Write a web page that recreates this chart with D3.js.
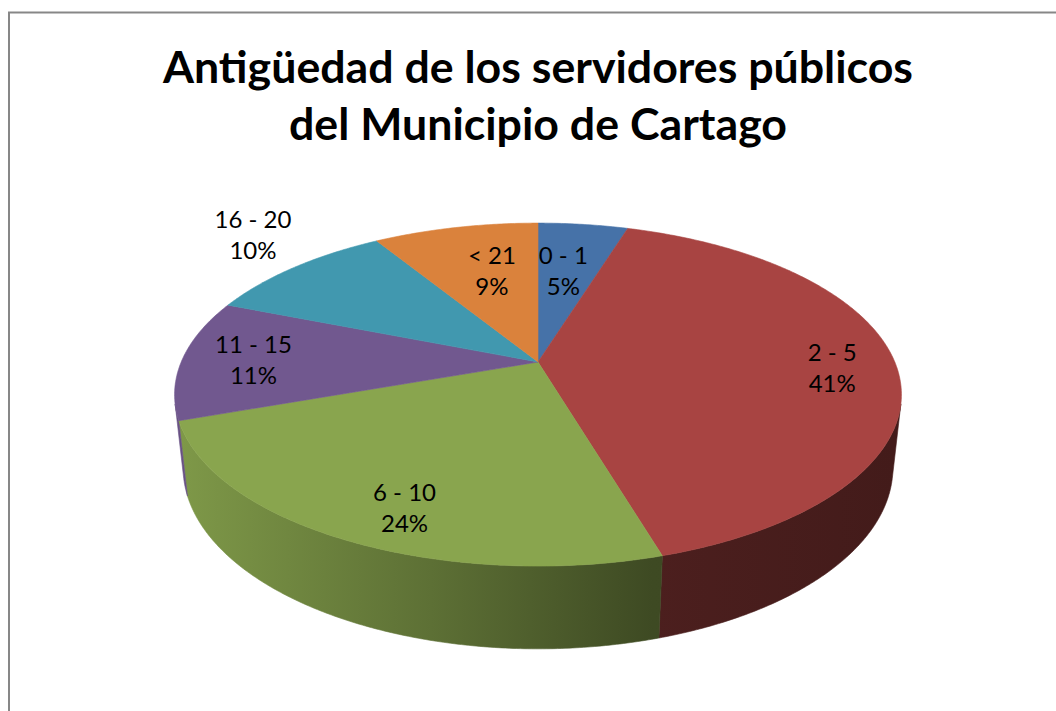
<!DOCTYPE html>
<html>
<head>
<meta charset="utf-8">
<script src="https://cdn.jsdelivr.net/npm/d3@7"></script>
<style>
  body { margin: 0; background: #fff; }
  svg { display: block; }
</style>
</head>
<body>
<div id="chart"></div>
<script>
// Data (percent of staff per seniority band)
const categories = ["0 - 1", "2 - 5", "6 - 10", "11 - 15", "16 - 20", "< 21"];
const shares = [4.8, 40.6, 24.2, 11.4, 10.2, 8.8];
const titleLines = ["Antigüedad de los servidores públicos", "del Municipio de Cartago"];

// Palette (Excel 2007 style)
const palette = ["#4672A8", "#A84442", "#89A54E", "#71588F", "#4198AF", "#DA823C"];

function drawPie3D() {
    const width = 1056, height = 711;

    const svg = d3.select("#chart").append("svg")
        .attr("width", width)
        .attr("height", height);

    // Chart frame (runs off the right and bottom edges)
    svg.append("rect")
        .attr("x", 9).attr("y", 12.5)
        .attr("width", 1200).attr("height", 900)
        .attr("fill", "#fff")
        .attr("stroke", "#878787")
        .attr("stroke-width", 2);

    // Title
    const title = svg.append("g");
    const titleWidths = [750, 498];
    titleLines.forEach((t, i) => {
        title.append("text")
            .attr("x", 538)
            .attr("y", 83 + i * 57)
            .attr("text-anchor", "middle")
            .attr("textLength", titleWidths[i])
            .attr("lengthAdjust", "spacingAndGlyphs")
            .style("font-family", "Lato, 'Open Sans', sans-serif")
            .style("font-weight", "bold")
            .style("font-size", "43px")
            .attr("fill", "#000")
            .text(t);
    });

    // 3D projection of a tilted disk seen in perspective
    const cx = 538, cy = 362;
    const R = 356.8;               // screen radius at depth d
    const d = 4.664;               // camera distance (in radii)
    const sinA = 0.4633;
    const cosA = Math.sqrt(1 - sinA * sinA);
    const H = 0.233;               // pie thickness (in radii)
    const F = R * d;

    function project(theta, r, yv) {
        const x = r * Math.sin(theta);
        const z = -r * Math.cos(theta);
        const w = d - yv * sinA - z * cosA;
        return [cx + F * x / w, cy + F * (z * sinA - yv * cosA) / w];
    }

    const pie = d3.pie().sort(null).value(d => d.value)
        .startAngle(0).endAngle(2 * Math.PI);
    const data = categories.map((c, i) => ({ label: c, value: shares[i], color: palette[i] }));
    const arcs = pie(data);
    const total = d3.sum(shares);

    const step = Math.PI / 360;
    function arcPoints(a0, a1, yv) {
        const n = Math.max(2, Math.ceil(Math.abs(a1 - a0) / step));
        return d3.range(n + 1).map(k => project(a0 + (a1 - a0) * k / n, 1, yv));
    }

    const line = d3.line();
    const defs = svg.append("defs");

    // Side walls: only the part facing the camera
    const limit = Math.acos(-1 / (d * cosA));
    const visLo = limit, visHi = 2 * Math.PI - limit;

    const shade = [[0, 0.92], [0.35, 0.68], [0.66, 0.45], [1, 0.40]];

    const walls = svg.append("g");
    arcs.forEach((a, i) => {
        const a0 = Math.max(a.startAngle, visLo);
        const a1 = Math.min(a.endAngle, visHi);
        if (a1 <= a0) return;

        const base = d3.rgb(a.data.color);
        const grad = defs.append("linearGradient")
            .attr("id", "side" + i)
            .attr("gradientUnits", "userSpaceOnUse")
            .attr("x1", cx - R).attr("y1", 0)
            .attr("x2", cx + R).attr("y2", 0);
        shade.forEach(([o, f]) => {
            grad.append("stop")
                .attr("offset", o)
                .attr("stop-color", d3.rgb(base.r * f, base.g * f, base.b * f).formatHex());
        });

        const pts = arcPoints(a0, a1, 0).concat(arcPoints(a1, a0, -H));
        walls.append("path")
            .attr("d", line(pts) + "Z")
            .attr("fill", `url(#side${i})`)
            .attr("stroke", `url(#side${i})`)
            .attr("stroke-width", 0.6);
    });

    // Top faces
    const tops = svg.append("g");
    arcs.forEach(a => {
        const pts = [[cx, cy]].concat(arcPoints(a.startAngle, a.endAngle, 0));
        tops.append("path")
            .attr("d", line(pts) + "Z")
            .attr("fill", a.data.color)
            .attr("stroke", a.data.color)
            .attr("stroke-width", 0.6);
    });

    // Data labels (Excel best-fit placement: radius and angular nudge per slice)
    const labelPlace = {
        "0 - 1":   { r: 0.62, shift: -1.3 },
        "2 - 5":   { r: 0.82, shift: 2 },
        "6 - 10":  { r: 0.82, shift: -4 },
        "11 - 15": { r: 0.80, shift: 0 },
        "16 - 20": { r: 1.30, shift: 4 },
        "< 21":    { r: 0.63, shift: 2.6 }
    };
    const pct = d3.format(".0%");

    const labels = svg.append("g")
        .style("font-family", "Lato, 'Open Sans', sans-serif")
        .style("font-size", "24px")
        .attr("fill", "#000")
        .attr("text-anchor", "middle");

    arcs.forEach(a => {
        const p = labelPlace[a.data.label];
        const mid = (a.startAngle + a.endAngle) / 2 + p.shift * Math.PI / 180;
        const [lx, ly] = project(mid, p.r, 0);
        const t = labels.append("text").attr("x", lx).attr("y", ly - 7);
        t.append("tspan").attr("x", lx).text(a.data.label);
        t.append("tspan").attr("x", lx).attr("dy", 31).text(pct(a.data.value / total));
    });
}

drawPie3D();
</script>
</body>
</html>
